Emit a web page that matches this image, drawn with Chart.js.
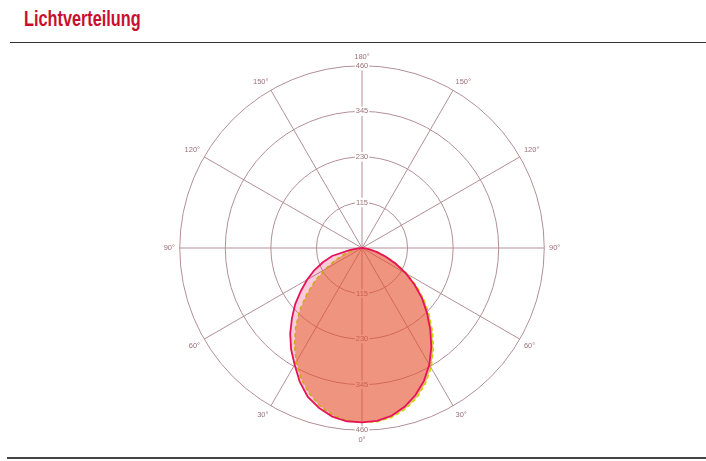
<!DOCTYPE html>
<html>
<head>
<meta charset="utf-8">
<script src="https://cdn.jsdelivr.net/npm/chart.js@4.4.1/dist/chart.umd.min.js"></script>
<style>
  html, body { margin: 0; padding: 0; background: #fff; }
  body { width: 706px; height: 461px; position: relative; overflow: hidden; }
  h1 { position: absolute; left: 24px; top: 6px; margin: 0; font: bold 22px "Liberation Sans Narrow", "Liberation Sans", sans-serif; color: #c8102e; transform: scaleX(0.74); transform-origin: left top; white-space: nowrap; }
  .linie-oben { position: absolute; left: 10px; right: 0; top: 42px; height: 1px; background: #333; }
  .linie-unten { position: absolute; left: 7px; right: 0; top: 457px; height: 2px; background: #444; }
  .diagramm { position: absolute; left: 18px; top: 52px; width: 688px; height: 392px; }
</style>
</head>
<body>
<h1>Lichtverteilung</h1>
<div class="linie-oben"></div>
<div class="diagramm"><canvas id="lvk"></canvas></div>
<div class="linie-unten"></div>
<script>
// Winkel ab 0° (nach unten) in 5°-Schritten, Lichtstärke in cd
var winkel = [0, 5, 10, 15, 20, 25, 30, 35, 40, 45, 50, 55, 60, 65, 70, 75, 80, 85, 90];
var ebeneA_rechts = [440, 438, 430, 415, 395, 370, 340, 305, 268, 232, 198, 162, 128, 94, 64, 38, 17, 5, 0];
var ebeneA_links  = [440, 439, 432, 418, 400, 372, 340, 312, 282, 250, 220, 188, 160, 133, 105, 78, 32, 10, 0];
var ebeneB_rechts = [440, 440, 434, 421, 403, 378, 349, 314, 277, 240, 205, 168, 132, 98, 67, 40, 19, 6, 0];
var ebeneB_links  = [440, 437, 428, 412, 390, 364, 332, 297, 260, 222, 182, 145, 108, 76, 50, 28, 12, 4, 0];
var ringWerte = [115, 230, 345, 460];
var winkelBeschriftung = ['180°', '150°', '120°', '90°', '60°', '30°', '0°', '30°', '60°', '90°', '120°', '150°'];

var gitterFarbe = '#b38f97';
var textFarbe = '#9e7179';

// radar läuft im Uhrzeigersinn ab oben (180°), 72 Schritte à 5°
function rundum(rechts, links) {
  var out = [];
  for (var i = 0; i < 72; i++) {
    var a = i * 5;
    var theta = a <= 180 ? 180 - a : a - 180;
    var seite = a <= 180 ? rechts : links;
    out.push(theta <= 90 ? seite[winkel.indexOf(theta)] : 0);
  }
  return out;
}

var beschriftungen = [];
for (var i = 0; i < 72; i++) {
  beschriftungen.push(i % 6 === 0 ? winkelBeschriftung[i / 6] : '');
}

// Werte auch entlang 0° nach unten beschriften
var untenBeschriftung = {
  id: 'untenBeschriftung',
  beforeDatasetsDraw: function(chart) {
    var r = chart.scales.r, ctx = chart.ctx;
    ctx.save();
    ctx.font = '7.5px "Liberation Sans", sans-serif';
    ctx.textAlign = 'center';
    ctx.textBaseline = 'middle';
    ringWerte.forEach(function(v) {
      var p = r.getPointPositionForValue(36, v);
      var w = ctx.measureText(String(v)).width;
      ctx.fillStyle = '#fff';
      ctx.fillRect(p.x - w / 2 - 1, p.y - 4, w + 2, 8);
      ctx.fillStyle = textFarbe;
      ctx.fillText(String(v), p.x, p.y);
    });
    ctx.restore();
  }
};

var lvk = new Chart(document.getElementById('lvk').getContext('2d'), {
  type: 'radar',
  data: {
    labels: beschriftungen,
    datasets: [
      {
        label: 'C0/C180',
        data: rundum(ebeneA_rechts, ebeneA_links),
        borderColor: '#e6135a',
        borderWidth: 1.8,
        backgroundColor: 'rgba(232, 23, 93, 0.22)',
        fill: true
      },
      {
        label: 'C90/C270',
        data: rundum(ebeneB_rechts, ebeneB_links),
        borderColor: '#c2d800',
        borderWidth: 1.6,
        borderDash: [4, 3],
        backgroundColor: 'rgba(227, 114, 20, 0.5)',
        fill: true,
        // linke Hälfte liegt unter der rosa Fläche und wirkt olivgrün
        segment: {
          borderColor: function(c) { return c.p0DataIndex >= 36 ? '#7f9020' : undefined; }
        }
      }
    ]
  },
  options: {
    responsive: true,
    maintainAspectRatio: false,
    animation: false,
    plugins: { legend: { display: false }, tooltip: { enabled: false } },
    elements: { point: { radius: 0 }, line: { tension: 0 } },
    scales: {
      r: {
        min: 0,
        max: 460,
        ticks: { stepSize: 115, color: textFarbe, font: { size: 7.5 }, backdropColor: '#fff', backdropPadding: 1 },
        grid: { color: gitterFarbe, lineWidth: 1, circular: true },
        angleLines: {
          color: gitterFarbe,
          lineWidth: function(c) { return c.index % 6 === 0 ? 1 : 0; }
        },
        pointLabels: { color: textFarbe, font: { size: 7.5 }, padding: 0 }
      }
    }
  },
  plugins: [untenBeschriftung]
});
</script>
</body>
</html>
